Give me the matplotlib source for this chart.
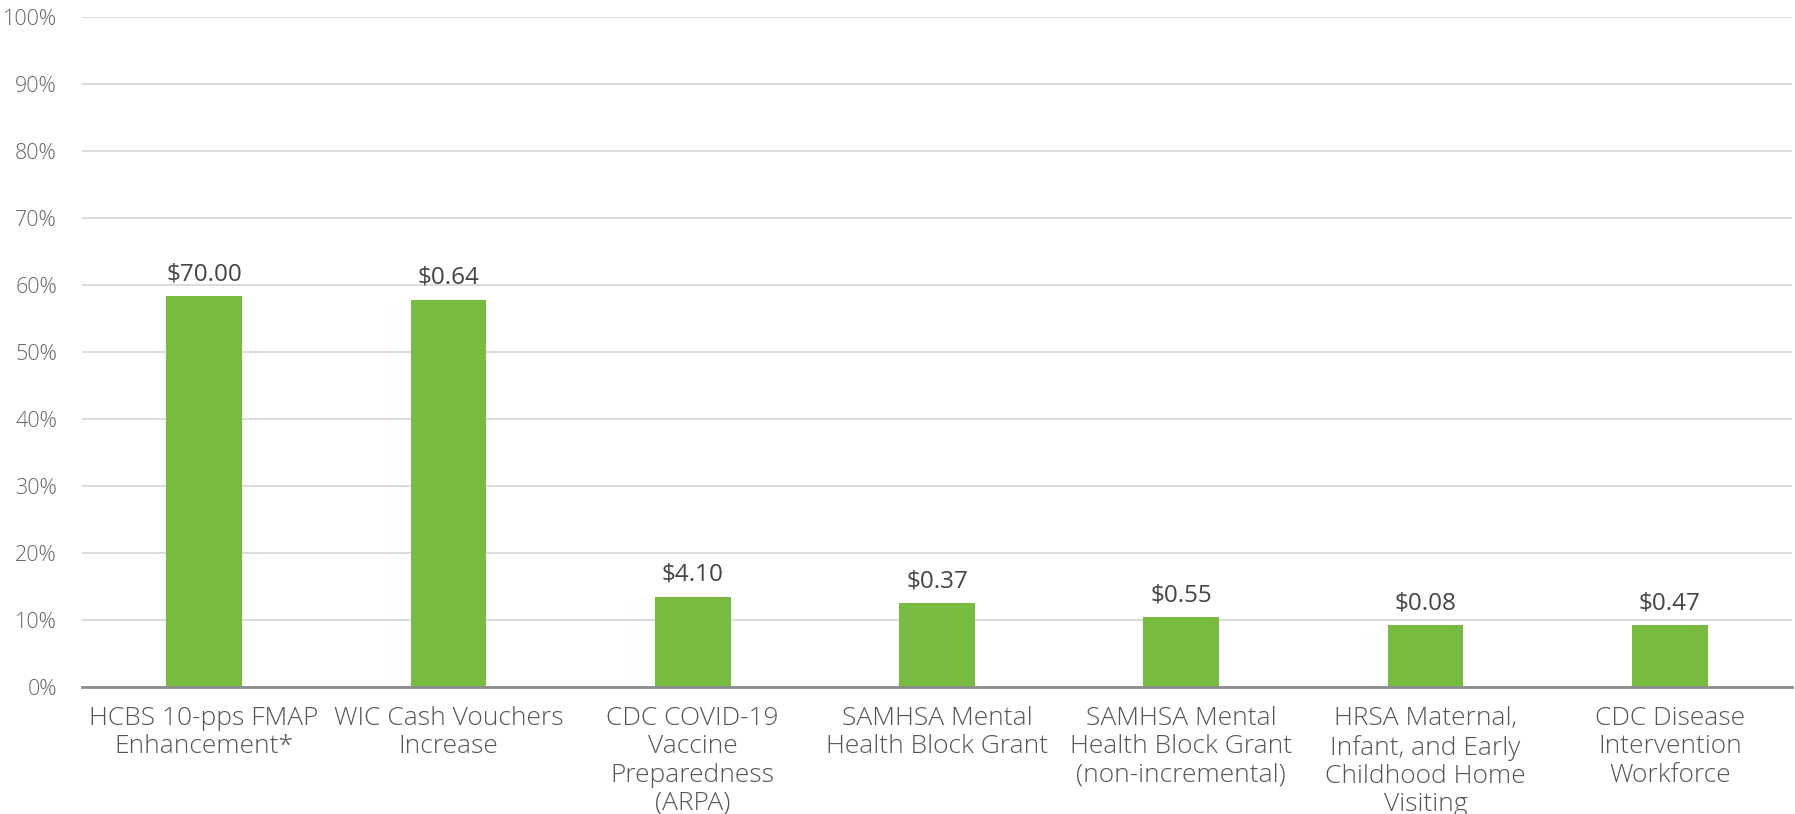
import numpy as np
import matplotlib
matplotlib.use('Agg')
import matplotlib.pyplot as plt

programs = [
    "HCBS 10-pps FMAP\nEnhancement*",
    "WIC Cash Vouchers\nIncrease",
    "CDC COVID-19\nVaccine\nPreparedness\n(ARPA)",
    "SAMHSA Mental\nHealth Block Grant",
    "SAMHSA Mental\nHealth Block Grant\n(non-incremental)",
    "HRSA Maternal,\nInfant, and Early\nChildhood Home\nVisiting",
    "CDC Disease\nIntervention\nWorkforce",
]
share = [58.3, 57.8, 13.5, 12.5, 10.4, 9.2, 9.2]
dollars = ["$70.00", "$0.64", "$4.10", "$0.37", "$0.55", "$0.08", "$0.47"]

plt.rcParams['font.family'] = ['Open Sans', 'DejaVu Sans']

fig = plt.figure(figsize=(17.95, 8.14), dpi=100)
ax = fig.add_axes([82 / 1795, 1 - 687 / 814, 1710 / 1795, 670 / 814])

x = np.arange(len(programs))
bars = ax.bar(x, share, width=0.31, color='#77bb41', zorder=3)

for b, lab in zip(bars, dollars):
    ax.text(b.get_x() + b.get_width() / 2, b.get_height() + 1.5, lab,
            ha='center', va='bottom', fontsize=17.5, color='#444444', zorder=4)

ax.set_xlim(-0.5, len(programs) - 0.5)
ax.set_ylim(0, 100)
ax.set_yticks(np.arange(0, 101, 10))
ax.set_yticklabels([f"{v}%" for v in range(0, 101, 10)], fontsize=15.5,
                   color='#666666', fontweight='light')
ax.set_xticks(x)
ax.set_xticklabels(programs, fontsize=19, color='#555555', linespacing=1.16,
                   fontweight='light')
ax.tick_params(axis='both', length=0)
ax.tick_params(axis='y', pad=18)
ax.tick_params(axis='x', pad=14)

ax.grid(axis='y', color='#d9d9d9', linewidth=1.3, zorder=0)
for s in ['top', 'right', 'left']:
    ax.spines[s].set_visible(False)
ax.spines['bottom'].set_color('#8c8c8c')
ax.spines['bottom'].set_linewidth(2)
ax.spines['bottom'].set_zorder(5)

fig.savefig('out.png', dpi=100)
